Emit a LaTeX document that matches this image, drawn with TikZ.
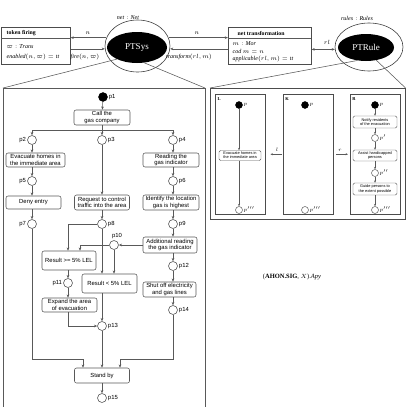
\documentclass[tikz,border=0pt]{standalone}
\usepackage{fontspec}
\setmainfont{Liberation Serif}
\newfontfamily\hv{Liberation Sans}
\usetikzlibrary{arrows.meta,shapes.geometric}
\begin{document}
\begin{tikzpicture}[x=1pt,y=-1pt,
  ln/.style={draw=black!65, line width=0.55pt},
  arc/.style={ln, -{Stealth[length=3.2pt,width=2.6pt]}},
  arcs/.style={ln, line width=0.45pt, -{Stealth[length=2.4pt,width=2pt]}},
  pl/.style={circle, draw=black!70, fill=white, line width=0.55pt, minimum size=9pt, inner sep=0pt},
  tok/.style={circle, draw=black, fill=black, minimum size=9pt, inner sep=0pt},
  spl/.style={circle, draw=black!70, fill=white, line width=0.45pt, minimum size=7pt, inner sep=0pt},
  stok/.style={circle, draw=black, fill=black, minimum size=7pt, inner sep=0pt},
  plab/.style={font=\hv\fontsize{5.9}{6}\selectfont, inner sep=1pt},
  slab/.style={font=\fontsize{4}{4}\selectfont, inner sep=0.8pt},
  tr/.style={draw=black!65, line width=0.55pt, rounded corners=2pt, fill=white, align=center, font=\hv\fontsize{5.9}{6.4}\selectfont, inner sep=0.5pt},
  str/.style={draw=black!65, line width=0.45pt, rounded corners=1.5pt, fill=white, align=center, font=\hv\fontsize{3.9}{4.2}\selectfont, inner sep=0.3pt},
  bx/.style={draw=black!70, line width=0.55pt, inner sep=0pt, anchor=north west},
  mth/.style={font=\fontsize{6}{7}\selectfont, inner sep=0.5pt},
  ttl/.style={font=\bfseries\fontsize{5.8}{6}\selectfont, inner sep=0.5pt, anchor=west},
  ell/.style={ellipse, draw=black!75, line width=0.6pt, fill=white, inner sep=0pt},
  ellin/.style={ellipse, fill=black, inner sep=0pt, text=white, font=\fontsize{9}{10}\selectfont}
]
\useasboundingbox (0,0) rectangle (407,407);

% ---------- top row ----------
\node[bx, minimum width=69pt, minimum height=37pt] (tf) at (1,27) {};
\draw[ln] (1,38) -- (70,38);
\node[ttl] (tft) at (6,33) {token firing};
\node[mth, anchor=west] (tf1) at (6,47) {$\varpi : \mathit{Trans}$};
\node[mth, anchor=west] (tf2) at (6,57) {$\mathit{enabled}(n,\varpi) = \mathit{tt}$};

\node[bx, minimum width=83pt, minimum height=37pt] (nt) at (228,27) {};
\draw[ln] (228,38) -- (311,38);
\node[ttl] (ntt) at (237,33) {net transformation};
\node[mth, anchor=west] (nt1) at (232,44) {$m : \mathit{Mor}$};
\node[mth, anchor=west] (nt2) at (232,51) {$\mathit{cod}\ m = n$};
\node[mth, anchor=west] (nt3) at (232,59) {$\mathit{applicable}(rl,m) = \mathit{tt}$};

\node[ell, minimum width=65pt, minimum height=52pt] (sys) at (137.5,46) {};
\node[ellin, minimum width=60pt, minimum height=31pt] (sysin) at (137,47.5) {PTSys};
\node[mth] (netlab) at (128,18) {$\mathit{net} : \mathit{Net}$};

\node[ell, minimum width=68pt, minimum height=48pt] (rule) at (369,47) {};
\node[ellin, minimum width=56pt, minimum height=27pt] (rulein) at (366,47.5) {PTRule};
\node[mth] (rulelab) at (357,18) {$\mathit{rules} : \mathit{Rules}$};

\draw[arc] (sys.165) -- (sys.165 -| tf.east);
\draw[arc] (tf.east |- sys.185) -- (sys.185);
\draw[arc] (sys.15) -- (sys.15 -| nt.west);
\draw[arc] (nt.west |- sys.355) -- (sys.355);
\draw[ln, {Stealth[length=3.2pt,width=2.6pt]}-{Stealth[length=3.2pt,width=2.6pt]}] (nt.east |- rule.184) -- (rule.184);
\node[mth] (l1) at (88,33) {$n$};
\node[mth] (l2) at (85,57) {$\mathit{fire}(n,\varpi)$};
\node[mth] (l3) at (197,33) {$n$};
\node[mth] (l4) at (189,57) {$\mathit{transform}(rl,m)$};
\node[mth] (l5) at (327,42) {$rl$};

% ---------- zoom frames ----------
\coordinate (blt) at (3,88);
\coordinate (brt) at (205,88);
\draw[ln] (3,407) -- (blt) -- (brt) -- (205,407);
\draw[ln] (sysin.210) -- (blt);
\draw[ln] (sysin.295) -- (brt);

\node[bx, minimum width=195pt, minimum height=131pt] (rbox) at (210,88) {};
\draw[ln] (rulein.236) -- (rbox.north west);
\draw[ln] (rulein.309) -- (rbox.north east);

% ---------- left net ----------
\node[tok, label={[plab]right:p1}] (p1) at (103,97) {};
\node[pl, label={[plab]left:p2}] (p2) at (32,140) {};
\node[pl, label={[plab]right:p3}] (p3) at (102,140) {};
\node[pl, label={[plab]right:p4}] (p4) at (173,140) {};
\node[pl, label={[plab]left:p5}] (p5) at (32,181) {};
\node[pl, label={[plab]right:p6}] (p6) at (173,181) {};
\node[pl, label={[plab]left:p7}] (p7) at (32,224) {};
\node[pl, label={[plab]right:p8}] (p8) at (102,224) {};
\node[pl, label={[plab]right:p9}] (p9) at (173,224) {};
\node[pl, label={[plab,xshift=3pt]above:p10}] (p10) at (114,245) {};
\node[pl, label={[plab]left:p11}] (p11) at (68,283) {};
\node[pl, label={[plab]right:p12}] (p12) at (173,266) {};
\node[pl, label={[plab]right:p13}] (p13) at (102,326) {};
\node[pl, label={[plab]right:p14}] (p14) at (173,310) {};
\node[pl, label={[plab]right:p15}] (p15) at (102,398) {};

\node[tr, minimum width=56pt, minimum height=15pt] (tcall) at (102,117.5) {Call the\\gas company};
\node[tr, minimum width=59pt, minimum height=14pt] (tevac) at (35.5,160) {Evacuate homes in\\the immediate area};
\node[tr, minimum width=55pt, minimum height=13pt] (tdeny) at (33.5,202.5) {Deny entry};
\node[tr, minimum width=55pt, minimum height=15pt] (treq) at (102,202.5) {Request to control\\traffic into the area};
\node[tr, minimum width=56pt, minimum height=14pt] (tread) at (171,160) {Reading the\\gas indicator};
\node[tr, minimum width=56pt, minimum height=15pt] (tident) at (171,202.5) {Identify the location\\gas is highest};
\node[tr, minimum width=54pt, minimum height=16pt] (tadd) at (170,245) {Additional reading\\the gas indicator};
\node[tr, minimum width=54pt, minimum height=19pt] (tgeq) at (69,260.5) {Result >= 5\% LEL};
\node[tr, minimum width=55pt, minimum height=19pt] (tlt) at (109.5,283.5) {Result < 5\% LEL};
\node[tr, minimum width=55pt, minimum height=14pt] (texp) at (69.5,305) {Expand the area\\of evacuation};
\node[tr, minimum width=53pt, minimum height=15pt] (tshut) at (169.5,289.5) {Shut off electricity\\and gas lines};
\node[tr, minimum width=55pt, minimum height=15pt] (tstand) at (102,375.5) {Stand by};

\coordinate (split) at (102,130);
\coordinate (g1) at (68,224);
\coordinate (g2) at (80,245);
\coordinate (s1) at (83,359);
\coordinate (s3) at (120,359);

\draw[arc] (p1) -- (tcall);
\draw[arc] (tcall) -- (p3);
\draw[arc] (split) -| (p2);
\draw[arc] (split) -| (p4);
\draw[arc] (p2) -- (p2 |- tevac.north);
\draw[arc] (p5 |- tevac.south) -- (p5);
\draw[arc] (p5) -- (p5 |- tdeny.north);
\draw[arc] (p7 |- tdeny.south) -- (p7);
\draw[arc] (p7) |- (s1) -- (s1 |- tstand.north);
\draw[arc] (p3) -- (p3 |- treq.north);
\draw[arc] (p8 |- treq.south) -- (p8);
\draw[arc] (p8) -- (g1) -- (g1 |- tgeq.north);
\draw[arc] (p8) -- (p8 |- tlt.north);
\draw[arc] (p4) -- (p4 |- tread.north);
\draw[arc] (p6 |- tread.south) -- (p6);
\draw[arc] (p6) -- (p6 |- tident.north);
\draw[arc] (p9 |- tident.south) -- (p9);
\draw[arc] (p9) -- (p9 |- tadd.north);
\draw[arc] (tadd) -- (p10);
\draw[arc] (p10) -- (g2) -- (g2 |- tgeq.north);
\draw[arc] (p10) -- (p10 |- tlt.north);
\draw[arc] (p11 |- tgeq.south) -- (p11);
\draw[arc] (p11) -- (p11 |- texp.north);
\draw[arc] (p11 |- texp.south) |- (p13);
\draw[arc] (p8 |- tlt.south) -- (p13);
\draw[arc] (p12 |- tadd.south) -- (p12);
\draw[arc] (p12) -- (p12 |- tshut.north);
\draw[arc] (p14 |- tshut.south) -- (p14);
\draw[arc] (p14) |- (s3) -- (s3 |- tstand.north);
\draw[arc] (p13) -- (tstand);
\draw[arc] (tstand) -- (p15);

% ---------- rule panel ----------
\node[bx, line width=0.45pt, minimum width=50pt, minimum height=120pt] (Lb) at (215,94) {};
\node[bx, line width=0.45pt, minimum width=50pt, minimum height=120pt] (Kb) at (283,94) {};
\node[bx, line width=0.45pt, minimum width=50pt, minimum height=120pt] (Rb) at (350,94) {};
\node[font=\bfseries\fontsize{4.5}{5}\selectfont, inner sep=0pt] (Ll) at (219,99) {L};
\node[font=\bfseries\fontsize{4.5}{5}\selectfont, inner sep=0pt] (Kl) at (287,99) {K};
\node[font=\bfseries\fontsize{4.5}{5}\selectfont, inner sep=0pt] (Rl) at (354,99) {R};

\node[stok, label={[slab]right:$p$}] (Lp) at (239,105) {};
\node[str, minimum width=42pt, minimum height=10pt] (Lt) at (240,155.5) {Evacuate homes in\\the immediate area};
\node[spl, label={[slab]right:$p'''$}] (Lq) at (239,210) {};
\draw[arcs] (Lp) -- (Lp |- Lt.north);
\draw[arcs] (Lq |- Lt.south) -- (Lq);

\node[stok, label={[slab]right:$p$}] (Kp) at (305,105) {};
\node[spl, label={[slab]right:$p'''$}] (Kq) at (305,210) {};

\node[stok, label={[slab]right:$p$}] (Rp) at (375,105) {};
\node[str, minimum width=44pt, minimum height=12pt] (Rt1) at (375,122) {Notify residents\\of the evacuation};
\node[spl, label={[slab]right:$p'$}] (Rp1) at (375,138) {};
\node[str, minimum width=44pt, minimum height=11pt] (Rt2) at (375,155.5) {Assist handicapped\\persons};
\node[spl, label={[slab]right:$p''$}] (Rp2) at (375,173) {};
\node[str, minimum width=44pt, minimum height=12pt] (Rt3) at (375,189) {Guide persons to\\the extent possible};
\node[spl, label={[slab]right:$p'''$}] (Rp3) at (375,210) {};
\draw[arcs] (Rp) -- (Rt1);
\draw[arcs] (Rt1) -- (Rp1);
\draw[arcs] (Rp1) -- (Rt2);
\draw[arcs] (Rt2) -- (Rp2);
\draw[arcs] (Rp2) -- (Rt3);
\draw[arcs] (Rt3) -- (Rp3);

\draw[arcs, shorten <=1pt, shorten >=5pt] (Kb.west) -- (Lb.east);
\draw[arcs, shorten <=3pt, shorten >=2pt] (Kb.east) -- (Rb.west);
\node[slab] (ll) at (277,150) {$l$};
\node[slab] (rl) at (340,150) {$r$};

\node[font=\fontsize{6.5}{7}\selectfont] (ahon) at (292,277) {(\textbf{AHON.SIG}, $X$).$\mathit{Apy}$};
\end{tikzpicture}
\end{document}
